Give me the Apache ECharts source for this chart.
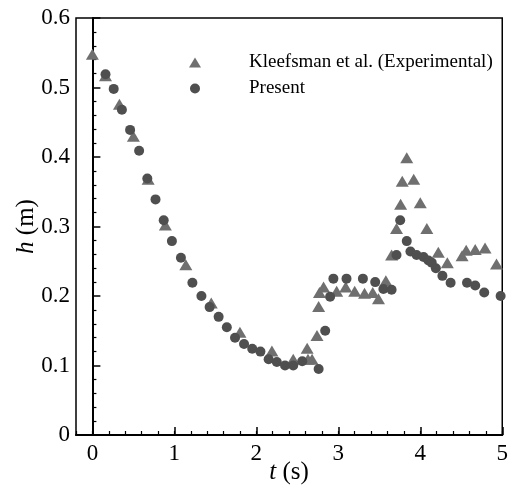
<!DOCTYPE html>
<html>
<head>
<meta charset="utf-8">
<script src="https://cdn.jsdelivr.net/npm/echarts@6/dist/echarts.min.js"></script>
<style>
  html, body { margin: 0; padding: 0; background: #fff; }
  #chart { width: 511px; height: 490px; }
</style>
</head>
<body>
<div id="chart"></div>
<script>
// Free-surface height h(t): experimental reference vs present simulation
const expT = [0, 0.16, 0.33, 0.50, 0.68, 0.89, 1.14, 1.45, 1.80, 2.19, 2.45, 2.62, 2.63, 2.68, 2.74, 2.76, 2.77, 2.82, 2.98, 3.09, 3.20, 3.32, 3.42, 3.49, 3.58, 3.65, 3.71, 3.76, 3.78, 3.835, 3.92, 4.00, 4.08, 4.22, 4.33, 4.51, 4.56, 4.67, 4.79, 4.93];
const expH = [0.548, 0.517, 0.476, 0.430, 0.368, 0.302, 0.245, 0.190, 0.148, 0.121, 0.109, 0.125, 0.109, 0.109, 0.143, 0.185, 0.205, 0.213, 0.207, 0.213, 0.207, 0.204, 0.205, 0.196, 0.222, 0.259, 0.297, 0.332, 0.365, 0.399, 0.368, 0.334, 0.297, 0.263, 0.248, 0.258, 0.266, 0.267, 0.269, 0.246];

const simT = [0.16, 0.26, 0.36, 0.46, 0.57, 0.67, 0.77, 0.87, 0.97, 1.08, 1.22, 1.33, 1.43, 1.54, 1.64, 1.74, 1.85, 1.95, 2.05, 2.15, 2.25, 2.35, 2.45, 2.56, 2.76, 2.84, 2.90, 2.94, 3.10, 3.30, 3.45, 3.55, 3.65, 3.71, 3.755, 3.835, 3.88, 3.955, 4.04, 4.10, 4.14, 4.19, 4.27, 4.37, 4.57, 4.67, 4.78, 4.98];
const simH = [0.519, 0.498, 0.468, 0.439, 0.409, 0.369, 0.339, 0.309, 0.279, 0.255, 0.219, 0.200, 0.184, 0.170, 0.155, 0.140, 0.131, 0.124, 0.120, 0.109, 0.105, 0.100, 0.100, 0.106, 0.095, 0.150, 0.199, 0.225, 0.225, 0.225, 0.220, 0.210, 0.209, 0.259, 0.309, 0.279, 0.264, 0.259, 0.256, 0.251, 0.248, 0.240, 0.229, 0.219, 0.219, 0.215, 0.205, 0.200];

const xMajor = [0, 1, 2, 3, 4, 5];

const zip = (a, b) => a.map((v, i) => [v, b[i]]);
const FONT = '"Liberation Serif", "DejaVu Serif", serif';
const titleStyle = {
  fontFamily: FONT, fontSize: 25, color: '#000',
  rich: { i: { fontStyle: 'italic', fontFamily: FONT, fontSize: 25, color: '#000' } }
};

const chart = echarts.init(document.getElementById('chart'), null, { renderer: 'canvas' });

chart.setOption({
  animation: false,
  backgroundColor: '#ffffff',
  grid: {
    left: 76, right: 4, top: 18, bottom: 53,
    show: true, borderColor: '#000', borderWidth: 1.5, backgroundColor: 'transparent'
  },
  legend: {
    left: 184, top: 47, orient: 'vertical',
    itemWidth: 12, itemHeight: 10, itemGap: 5,
    textStyle: {
      fontFamily: FONT, fontSize: 19, color: '#000', lineHeight: 21,
      rich: { g: { width: 43 }, t: { fontFamily: FONT, fontSize: 19, color: '#000' } }
    },
    formatter: name => '{g| }{t|' + name + '}',
    data: ['Kleefsman et al. (Experimental)', 'Present']
  },
  xAxis: [
    {
      type: 'value', min: -0.2, max: 5, interval: 0.2,
      axisLine: { show: true, lineStyle: { color: '#000', width: 2 } },
      axisTick: { show: true, inside: true, length: 4, lineStyle: { color: '#000', width: 1.2 } },
      axisLabel: { show: false },
      splitLine: { show: false },
      name: '{i|t} (s)',
      nameLocation: 'middle', nameGap: 25, nameMoveOverlap: false,
      nameTextStyle: titleStyle
    },
    {
      type: 'value', min: -0.2, max: 5, position: 'bottom',
      axisLine: { show: false },
      axisTick: { show: true, inside: true, length: 8, customValues: xMajor, lineStyle: { color: '#000', width: 1.5 } },
      axisLabel: {
        show: true, customValues: xMajor, margin: 7,
        fontFamily: FONT, fontSize: 23, color: '#000'
      },
      splitLine: { show: false }
    }
  ],
  yAxis: {
    type: 'value', min: 0, max: 0.6, interval: 0.1,
    axisLine: { show: true, lineStyle: { color: '#000', width: 2 } },
    axisTick: { show: true, inside: true, length: 8, lineStyle: { color: '#000', width: 1.5 } },
    minorTick: { show: true, splitNumber: 5, length: 4, lineStyle: { color: '#000', width: 1.2 } },
    axisLabel: { margin: 6, fontFamily: FONT, fontSize: 23, color: '#000' },
    splitLine: { show: false },
    name: '{i|h} (m)',
    nameLocation: 'middle', nameGap: 37, nameMoveOverlap: false,
    nameTextStyle: titleStyle
  },
  series: [
    {
      name: 'Kleefsman et al. (Experimental)',
      type: 'scatter', xAxisIndex: 0,
      symbol: 'triangle', symbolSize: [13, 11],
      itemStyle: { color: '#6f6f6f', opacity: 1 },
      data: zip(expT, expH)
    },
    {
      name: 'Present',
      type: 'scatter', xAxisIndex: 0,
      symbol: 'circle', symbolSize: 10,
      itemStyle: { color: '#4f4f4f', opacity: 1 },
      data: zip(simT, simH)
    }
  ]
});
</script>
</body>
</html>
